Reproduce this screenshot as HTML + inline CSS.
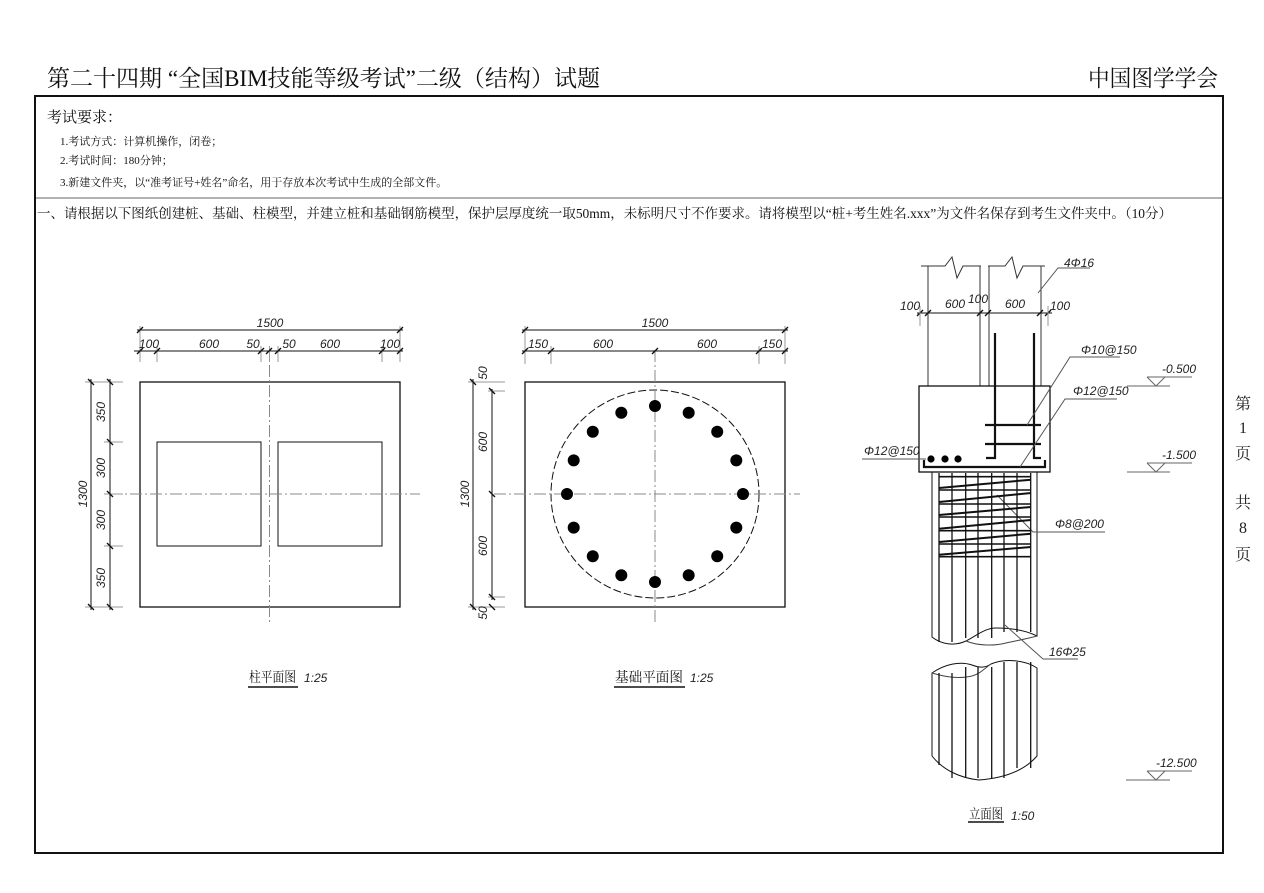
<!DOCTYPE html>
<html><head><meta charset="utf-8"><style>
html,body{margin:0;padding:0;background:#fff;}
svg{display:block;}
.cn{font-family:"Liberation Serif","Noto Serif CJK SC",serif;}
.dim{font-family:"Liberation Sans Narrow","Liberation Sans",sans-serif;font-style:italic;font-size:12px;fill:#222;}
</style></head><body>
<svg id="s" width="1264" height="893" viewBox="0 0 1264 893" xmlns="http://www.w3.org/2000/svg">
<rect width="1264" height="893" fill="#fff"/>
<text x="47" y="86" class="cn" font-size="23" fill="#111" textLength="553" lengthAdjust="spacingAndGlyphs">第二十四期 “全国BIM技能等级考试”二级（结构）试题</text>
<text x="1088" y="86" class="cn" font-size="23" fill="#111" textLength="130" lengthAdjust="spacingAndGlyphs">中国图学学会</text>
<rect x="35" y="96" width="1188" height="757" fill="none" stroke="#111" stroke-width="2"/>
<line x1="36" y1="198" x2="1222" y2="198" stroke="#666" stroke-width="1"/>
<text x="47" y="122" class="cn" font-size="15" fill="#111">考试要求：</text>
<text x="60" y="145" class="cn" font-size="11" fill="#111">1.考试方式：计算机操作，闭卷；</text>
<text x="60" y="164" class="cn" font-size="11" fill="#111">2.考试时间：180分钟；</text>
<text x="60" y="186" class="cn" font-size="11" fill="#111">3.新建文件夹，以“准考证号+姓名”命名，用于存放本次考试中生成的全部文件。</text>
<text x="37" y="218" class="cn" font-size="13.5" fill="#111" textLength="1135" lengthAdjust="spacingAndGlyphs">一、请根据以下图纸创建桩、基础、柱模型，并建立桩和基础钢筋模型，保护层厚度统一取50mm，未标明尺寸不作要求。请将模型以“桩+考生姓名.xxx”为文件名保存到考生文件夹中。（10分）</text>
<g class="cn" font-size="16" fill="#222" text-anchor="middle">
<text x="1243" y="409">第</text><text x="1243" y="433">1</text><text x="1243" y="459">页</text>
<text x="1243" y="508">共</text><text x="1243" y="533">8</text><text x="1243" y="560">页</text>
</g>

<g stroke="#111" fill="none" stroke-width="1">
<rect x="140" y="382" width="260" height="225" stroke-width="1.3"/>
<rect x="157" y="442" width="104" height="104"/>
<rect x="278" y="442" width="104" height="104"/>
<line x1="269.5" y1="365" x2="269.5" y2="625" stroke="#888" stroke-dasharray="12,3,2,3"/>
<line x1="110" y1="494" x2="420" y2="494" stroke="#888" stroke-dasharray="12,3,2,3"/>
<line x1="137" y1="330" x2="403" y2="330"/>
<line x1="134" y1="351" x2="403" y2="351"/>
<g stroke="#999"><line x1="140" y1="326" x2="140" y2="362"/><line x1="157" y1="346" x2="157" y2="362"/><line x1="261" y1="346" x2="261" y2="362"/><line x1="269.5" y1="346" x2="269.5" y2="362"/><line x1="278" y1="346" x2="278" y2="362"/><line x1="382" y1="346" x2="382" y2="362"/><line x1="400" y1="326" x2="400" y2="362"/></g>
<g stroke-width="1.4"><path d="M137,333l6,-6M397,333l6,-6M137,354l6,-6M154,354l6,-6M258,354l6,-6M266,354l6,-6M275,354l6,-6M379,354l6,-6M397,354l6,-6"/></g>
<line x1="91" y1="379" x2="91" y2="610"/><line x1="110" y1="379" x2="110" y2="610"/>
<g stroke="#999"><line x1="85" y1="382" x2="123" y2="382"/><line x1="104" y1="442" x2="123" y2="442"/><line x1="104" y1="494" x2="123" y2="494"/><line x1="104" y1="546" x2="123" y2="546"/><line x1="85" y1="607" x2="123" y2="607"/></g>
<g stroke-width="1.4"><path d="M88,379l6,6M107,379l6,6M107,439l6,6M107,491l6,6M107,543l6,6M88,604l6,6M107,604l6,6"/></g>
<rect x="525" y="382" width="260" height="225" stroke-width="1.3"/>
<circle cx="655" cy="494" r="104" stroke-dasharray="8,3"/>
<line x1="655" y1="350" x2="655" y2="625" stroke="#888" stroke-dasharray="12,3,2,3"/>
<line x1="494" y1="494" x2="800" y2="494" stroke="#888" stroke-dasharray="12,3,2,3"/>
<line x1="522" y1="330" x2="788" y2="330"/>
<line x1="522" y1="351" x2="788" y2="351"/>
<g stroke="#999"><line x1="525" y1="326" x2="525" y2="364"/><line x1="551" y1="346" x2="551" y2="364"/><line x1="759" y1="346" x2="759" y2="364"/><line x1="785" y1="326" x2="785" y2="364"/></g>
<g stroke-width="1.4"><path d="M522,333l6,-6M782,333l6,-6M522,354l6,-6M548,354l6,-6M652,354l6,-6M756,354l6,-6M782,354l6,-6"/></g>
<line x1="473" y1="379" x2="473" y2="610"/><line x1="492" y1="389" x2="492" y2="600"/>
<g stroke="#999"><line x1="468" y1="382" x2="505" y2="382"/><line x1="488" y1="391" x2="505" y2="391"/><line x1="488" y1="597" x2="505" y2="597"/><line x1="468" y1="607" x2="505" y2="607"/></g>
<g stroke-width="1.4"><path d="M470,379l6,6M489,388l6,6M489,491l6,6M489,594l6,6M470,604l6,6M489,604l6,6"/></g>
<g stroke="#333">
<line x1="928" y1="266" x2="928" y2="386"/><line x1="980" y1="266" x2="980" y2="386"/>
<line x1="989" y1="266" x2="989" y2="386"/><line x1="1041" y1="266" x2="1041" y2="386"/>
<path d="M921,266H945L952,257L957,278L963,266H981"/>
<path d="M988,266H1005L1012,257L1017,278L1023,266H1045"/>
</g>
<line x1="917" y1="313" x2="1052" y2="313"/>
<g stroke-width="1.4"><path d="M917,316l6,-6M925,316l6,-6M977,316l6,-6M985,316l6,-6M1037,316l6,-6M1045,316l6,-6"/></g>
<g stroke="#999"><line x1="920" y1="306" x2="920" y2="326"/><line x1="1048" y1="306" x2="1048" y2="326"/></g>
<path d="M1038,293L1058,268H1090" stroke="#555"/>
<rect x="919" y="386" width="131" height="86" stroke-width="1.3"/>
<g stroke-width="2.2">
<path d="M995,333V458H986"/><path d="M1034,333V458H1041"/>
<line x1="985" y1="425" x2="1041" y2="425"/><line x1="985" y1="444" x2="1041" y2="444"/>
<path d="M924,460V467H1045V460"/>
</g>
<path d="M1027,425L1070,357H1120" stroke="#555"/>
<path d="M1020,467L1065,399H1117" stroke="#555"/>
<line x1="862" y1="459" x2="926" y2="459" stroke="#555"/>
<g stroke="#666"><line x1="1127" y1="386" x2="1170" y2="386"/><path d="M1147,377H1192M1147,377L1156,386L1165,377"/>
<line x1="1127" y1="472" x2="1170" y2="472"/><path d="M1147,463H1192M1147,463L1156,472L1165,463"/>
<line x1="1126" y1="780" x2="1170" y2="780"/><path d="M1147,771H1192M1147,771L1156,780L1165,771"/></g>
<path d="M932,472V637C942,645 955,646 966,641C976,636 985,628 996,628C1010,628 1025,630 1037,636V472"/>
<path d="M966,641C978,646 995,646 1006,643C1020,640 1030,638 1037,636" stroke="#444"/>
<path d="M932,673C945,664 960,661 972,665C980,668 985,668 991,664C1005,658 1025,660 1037,668V756C1025,770 1005,778 979,780C960,778 943,770 932,756Z"/>
<path d="M932,673C945,677 960,679 972,676C980,674 985,668 991,664" stroke="#444"/>
<line x1="1005" y1="625" x2="1043" y2="659" stroke="#555"/><line x1="1043" y1="659" x2="1078" y2="659" stroke="#555"/>
<path d="M997,495L1033,532H1105" stroke="#555"/>
</g>
<g id="bars" stroke="#111" stroke-width="1.6"></g>
<g fill="#000" id="dots">
<circle cx="931" cy="459" r="3.6"/><circle cx="945" cy="459" r="3.6"/><circle cx="958" cy="459" r="3.6"/>
</g>
<text class="dim" x="270" y="327" text-anchor="middle">1500</text>
<text class="dim" x="149" y="348" text-anchor="middle">100</text>
<text class="dim" x="209" y="348" text-anchor="middle">600</text>
<text class="dim" x="253" y="348" text-anchor="middle">50</text>
<text class="dim" x="289" y="348" text-anchor="middle">50</text>
<text class="dim" x="330" y="348" text-anchor="middle">600</text>
<text class="dim" x="390" y="348" text-anchor="middle">100</text>
<g class="dim" text-anchor="middle">
<text transform="translate(105,412) rotate(-90)">350</text>
<text transform="translate(105,468) rotate(-90)">300</text>
<text transform="translate(105,520) rotate(-90)">300</text>
<text transform="translate(105,578) rotate(-90)">350</text>
<text transform="translate(87,494) rotate(-90)">1300</text>
<text transform="translate(487,373) rotate(-90)">50</text>
<text transform="translate(487,442) rotate(-90)">600</text>
<text transform="translate(487,546) rotate(-90)">600</text>
<text transform="translate(487,613) rotate(-90)">50</text>
<text transform="translate(469,494) rotate(-90)">1300</text>
</g>
<text class="dim" x="655" y="327" text-anchor="middle">1500</text>
<text class="dim" x="538" y="348" text-anchor="middle">150</text>
<text class="dim" x="603" y="348" text-anchor="middle">600</text>
<text class="dim" x="707" y="348" text-anchor="middle">600</text>
<text class="dim" x="772" y="348" text-anchor="middle">150</text>
<text class="dim" x="910" y="310" text-anchor="middle">100</text>
<text class="dim" x="955" y="308" text-anchor="middle">600</text>
<text class="dim" x="978" y="303" text-anchor="middle">100</text>
<text class="dim" x="1015" y="308" text-anchor="middle">600</text>
<text class="dim" x="1060" y="310" text-anchor="middle">100</text>
<text class="dim" x="1064" y="267" font-size="11">4Φ16</text>
<text class="dim" x="1081" y="354" font-size="11">Φ10@150</text>
<text class="dim" x="1073" y="395" font-size="11">Φ12@150</text>
<text class="dim" x="864" y="455" font-size="11">Φ12@150</text>
<text class="dim" x="1055" y="528" font-size="11">Φ8@200</text>
<text class="dim" x="1049" y="656" font-size="11">16Φ25</text>
<text class="dim" x="1162" y="373" font-size="11">-0.500</text>
<text class="dim" x="1162" y="459" font-size="11">-1.500</text>
<text class="dim" x="1156" y="767" font-size="11">-12.500</text>
<text x="249" y="682" class="cn" font-size="14" fill="#111" textLength="47" lengthAdjust="spacingAndGlyphs">柱平面图</text>
<line x1="248" y1="687" x2="298" y2="687" stroke="#111" stroke-width="1.5"/>
<text class="dim" x="304" y="682">1:25</text>
<text x="615" y="682" class="cn" font-size="14" fill="#111" textLength="68" lengthAdjust="spacingAndGlyphs">基础平面图</text>
<line x1="614" y1="687" x2="685" y2="687" stroke="#111" stroke-width="1.5"/>
<text class="dim" x="690" y="682">1:25</text>
<text x="969" y="819" class="cn" font-size="14" fill="#111" textLength="34" lengthAdjust="spacingAndGlyphs">立面图</text>
<line x1="968" y1="822" x2="1004" y2="822" stroke="#111" stroke-width="1.5"/>
<text class="dim" x="1011" y="820">1:50</text>
</svg>
<script>
var ns="http://www.w3.org/2000/svg";
function el(p,t,a){var e=document.createElementNS(ns,t);for(var k in a)e.setAttribute(k,a[k]);p.appendChild(e);return e;}
var d=document.getElementById('dots');
for(var i=0;i<16;i++){var a=i*Math.PI/8;el(d,'circle',{cx:655+88*Math.sin(a),cy:494-88*Math.cos(a),r:6});}
var b=document.getElementById('bars');
var xs=[939,952,965.7,978,991.7,1004,1017,1030.7];
xs.forEach(function(x){el(b,'line',{x1:x,y1:473,x2:x,y2:x<960?642:(x<995?638:632),'stroke-width':1.3});
var y0=x<960?673:(x<992?667:662);el(b,'line',{x1:x,y1:y0,x2:x,y2:x<950?765:(x<1010?778:768),'stroke-width':1.3});});
var ys=[476.7,490,504,517,530.7,544,556.7];
ys.forEach(function(y,i){el(b,'line',{x1:939,y1:y,x2:1031,y2:y});if(i<ys.length-1)el(b,'line',{x1:939,y1:ys[i+1]-2,x2:1031,y2:y+3,'stroke-width':2});});
</script>
</body></html>
